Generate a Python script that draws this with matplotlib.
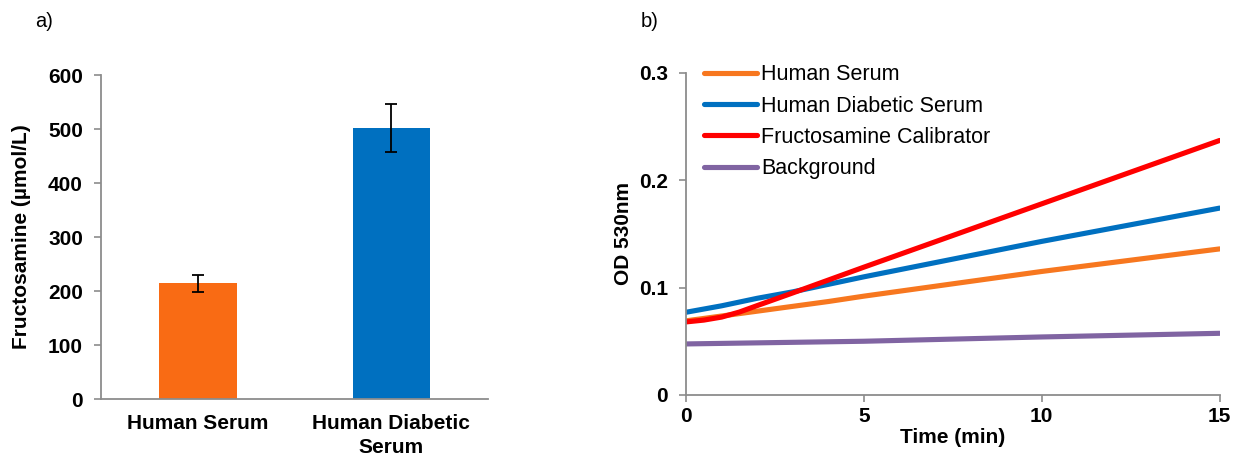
import matplotlib.pyplot as plt
import numpy as np

plt.rcParams['font.family'] = ['Liberation Sans', 'DejaVu Sans']

# ============================
# Data
# ============================
samples = ['Human Serum', 'Human Diabetic\nSerum']
fructosamine = [214, 502]
fructosamine_err = [16.5, 45]

time_min = [0, 1, 2, 3, 4, 5, 10, 15]
od_serum = [0.069, 0.0735, 0.078, 0.0825, 0.087, 0.092, 0.115, 0.136]
od_diabetic = [0.077, 0.083, 0.090, 0.096, 0.103, 0.110, 0.143, 0.174]
od_background = [0.0475, 0.048, 0.0485, 0.049, 0.0495, 0.050, 0.054, 0.0574]

calib_time = [0, 0.5, 1, 1.5, 2, 3, 4, 5, 10, 15]
od_calibrator = [0.068, 0.0697, 0.0725, 0.0772, 0.0832, 0.095, 0.107, 0.119, 0.178, 0.237]

series_names = ['Human Serum', 'Human Diabetic Serum',
                'Fructosamine Calibrator', 'Background']
series_colors = ['#F7771F', '#0070C0', '#FF0000', '#8064A2']

spine_grey = '#8C8C8C'
fs = 15

fig = plt.figure(figsize=(12.41, 4.55), dpi=100)

# ============================
# a) Bar chart
# ============================
ax1 = fig.add_axes([0.0814, 0.123, 0.312, 0.712])
x = np.arange(len(samples))
ax1.bar(x, fructosamine, width=0.4, color=['#F96B14', '#0070C0'])
ax1.errorbar(x, fructosamine, yerr=fructosamine_err, fmt='none',
             ecolor='black', elinewidth=1.3, capsize=4.5, capthick=1.3)
ax1.set_xlim(-0.5, 1.5)
ax1.set_ylim(0, 600)
ax1.set_yticks([0, 100, 200, 300, 400, 500, 600])
ax1.set_xticks(x)
ax1.set_xticklabels(samples, fontsize=fs, fontweight='bold', linespacing=1.3)
ax1.set_ylabel('Fructosamine (µmol/L)', fontsize=fs, fontweight='bold', labelpad=12)
for lbl in ax1.get_yticklabels():
    lbl.set_fontsize(fs)
    lbl.set_fontweight('bold')
ax1.tick_params(axis='y', direction='out', length=5, width=1.2,
                color=spine_grey, pad=8)
ax1.tick_params(axis='x', length=0, pad=11)
for s in ['top', 'right']:
    ax1.spines[s].set_visible(False)
for s in ['left', 'bottom']:
    ax1.spines[s].set_color(spine_grey)
    ax1.spines[s].set_linewidth(1.3)

# ============================
# b) Kinetic curves
# ============================
ax2 = fig.add_axes([0.5528, 0.132, 0.430, 0.708])
series = [(time_min, od_serum), (time_min, od_diabetic),
          (calib_time, od_calibrator), (time_min, od_background)]
for (t, vals), name, col in zip(series, series_names, series_colors):
    ax2.plot(t, vals, color=col, linewidth=3.7, label=name,
             solid_capstyle='round')
ax2.set_xlim(0, 15)
ax2.set_ylim(0, 0.3)
ax2.set_xticks([0, 5, 10, 15])
ax2.set_yticks([0, 0.1, 0.2, 0.3])
ax2.set_yticklabels(['0', '0.1', '0.2', '0.3'])
for lbl in ax2.get_xticklabels() + ax2.get_yticklabels():
    lbl.set_fontsize(fs)
    lbl.set_fontweight('bold')
ax2.tick_params(axis='both', direction='out', length=5, width=1.2,
                color=spine_grey)
ax2.tick_params(axis='y', pad=8)
ax2.tick_params(axis='x', pad=4)
ax2.set_xlabel('Time (min)', fontsize=fs, fontweight='bold', labelpad=1)
ax2.set_ylabel('OD 530nm', fontsize=fs, fontweight='bold', labelpad=4)
for s in ['top', 'right']:
    ax2.spines[s].set_visible(False)
for s in ['left', 'bottom']:
    ax2.spines[s].set_color(spine_grey)
    ax2.spines[s].set_linewidth(1.3)

leg = ax2.legend(loc='upper left', bbox_to_anchor=(0.005, 1.073), frameon=False,
                 fontsize=fs + 0.5, handlelength=2.45, handletextpad=0.2,
                 labelspacing=0.48, borderaxespad=0.3)

# Panel labels
fig.text(0.028, 0.953, 'a)', fontsize=14.5, va='center')
fig.text(0.516, 0.953, 'b)', fontsize=14.5, va='center')

fig.savefig('out.png', dpi=100)
